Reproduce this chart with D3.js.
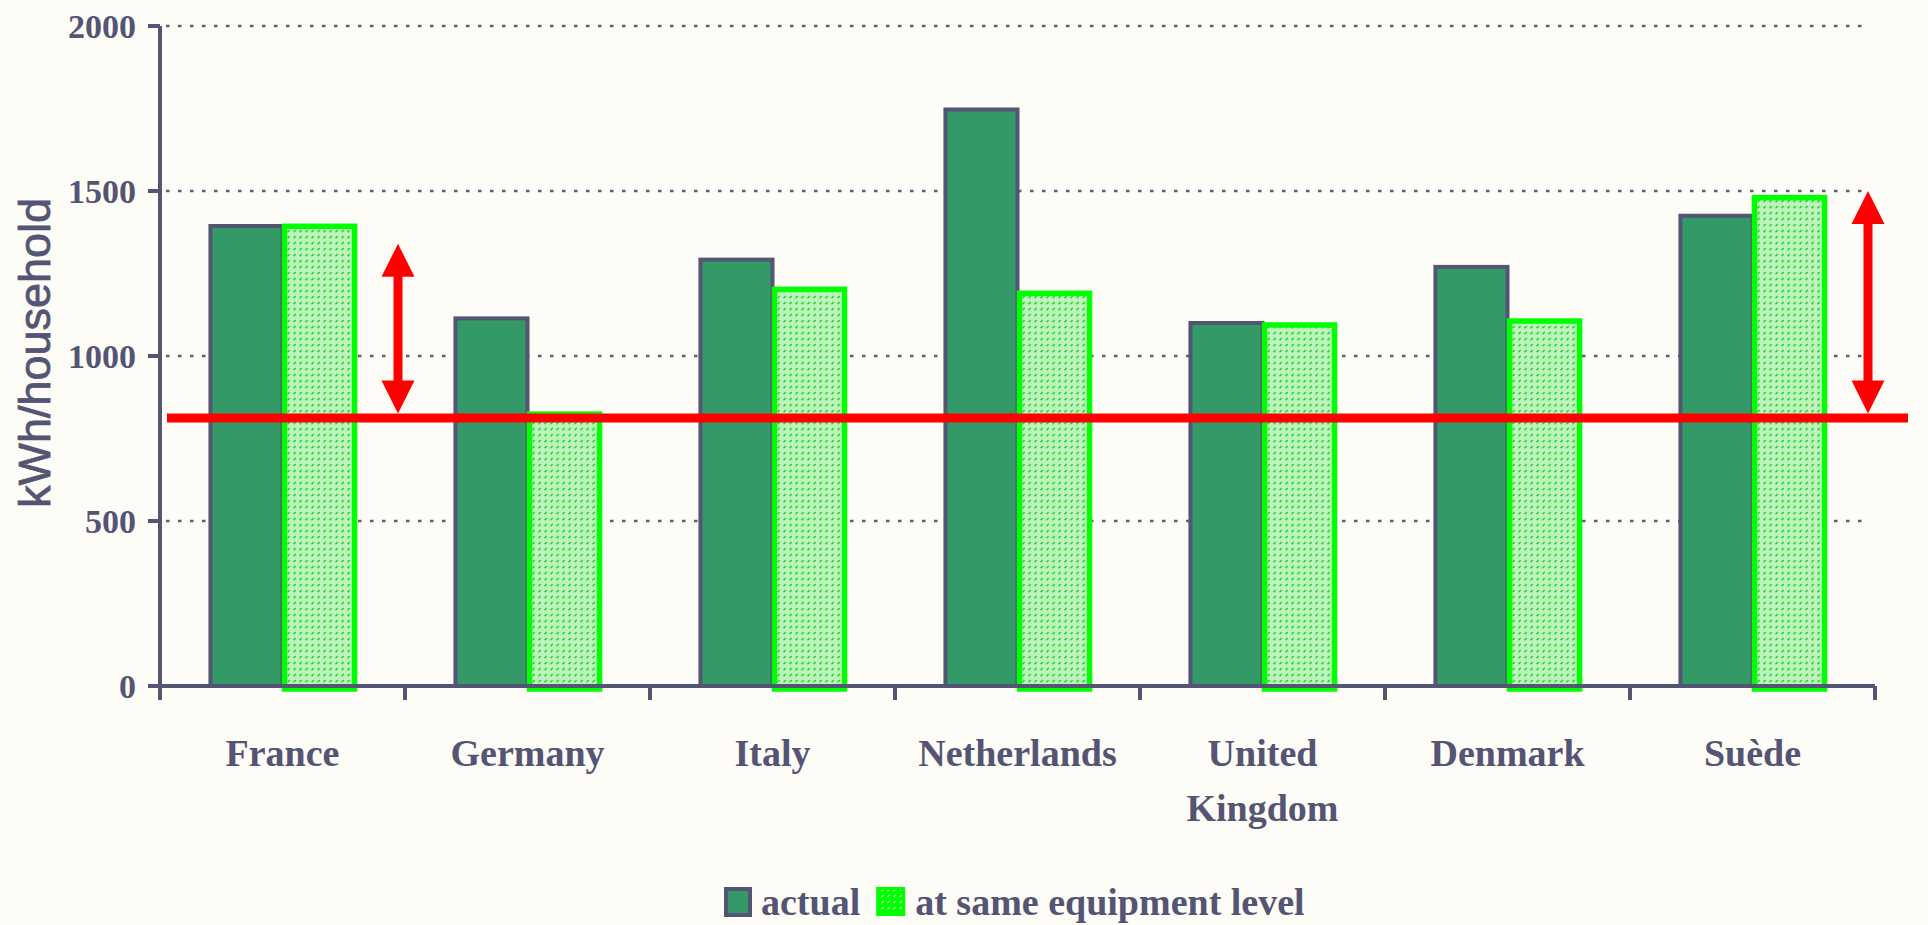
<!DOCTYPE html>
<html>
<head>
<meta charset="utf-8">
<script src="https://cdn.jsdelivr.net/npm/d3@7"></script>
<style>
  html, body { margin: 0; padding: 0; background: #fdfcf6; }
  svg { display: block; }
  .tickLabel, .catLabel, .legendText { font-family: "Liberation Serif", "Times New Roman", serif; font-weight: bold; fill: #545474; }
  .axisTitle { font-family: "Liberation Sans", Arial, sans-serif; fill: #545474; }
</style>
</head>
<body>
<svg id="graphic-svg" width="1928" height="925"></svg>
<script>
var svg = d3.select("#graphic-svg");
var W = 1928, H = 925;
var margin = { left: 160, right: 53, top: 26, bottom: 239 };

// Data
var countries = ["France", "Germany", "Italy", "Netherlands", "United Kingdom", "Denmark", "Suède"];
var series = ["actual", "at same equipment level"];
var actual = [1394, 1114, 1292, 1747, 1100, 1270, 1425];
var sameEquipment = [1393, 824, 1202, 1190, 1094, 1106, 1480];
var yTicks = [0, 500, 1000, 1500, 2000];
var refValue = 812;
var arrowCountries = ["France", "Suède"];
var arrowTops = [1340, 1500];

// Colors
var axisColor = "#545474";
var darkGreen = "#339966";
var brightGreen = "#00ff00";
var red = "#ff0000";

// Scales
var x0 = d3.scaleBand()
           .domain(countries)
           .range([margin.left, W - margin.right]);
var x1 = d3.scaleBand()
           .domain(series)
           .range([0, x0.bandwidth()])
           .paddingInner(0)
           .paddingOuter(0.7);
var y = d3.scaleLinear()
          .domain([0, 2000])
          .range([H - margin.bottom, margin.top]);

// Pattern for the hatched bars
var defs = svg.append("defs");
var pat = defs.append("pattern")
              .attr("id", "dots")
              .attr("patternUnits", "userSpaceOnUse")
              .attr("width", 6)
              .attr("height", 6);
pat.append("rect").attr("width", 6).attr("height", 6).attr("fill", "#bdf4bd");
pat.append("line")
   .attr("x1", 1.5).attr("y1", 4.2).attr("x2", 3.7).attr("y2", 2)
   .attr("stroke", "#22d822").attr("stroke-width", 1.6);
var pat2 = defs.append("pattern")
               .attr("id", "dotsLegend")
               .attr("patternUnits", "userSpaceOnUse")
               .attr("width", 6)
               .attr("height", 6);
pat2.append("rect").attr("width", 6).attr("height", 6).attr("fill", brightGreen);
pat2.append("line")
    .attr("x1", 1.5).attr("y1", 4.2).attr("x2", 3.7).attr("y2", 2)
    .attr("stroke", "#c8ffc8").attr("stroke-width", 1.2);

// Gridlines
svg.append("g")
   .selectAll("line")
   .data(yTicks.filter(function(d) { return d > 0; }))
   .enter()
   .append("line")
   .attr("x1", margin.left + 6)
   .attr("x2", x0.range()[1] - 5)
   .attr("y1", function(d) { return y(d); })
   .attr("y2", function(d) { return y(d); })
   .style("stroke", "#5e5e80")
   .style("stroke-width", 2.5)
   .style("stroke-dasharray", "3.5,8.5");

// Bars
var rows = countries.map(function(c, i) {
  return { country: c, values: [actual[i], sameEquipment[i]] };
});
var barGroup = svg.selectAll(".barGroup")
                  .data(rows)
                  .enter()
                  .append("g")
                  .attr("class", "barGroup")
                  .attr("transform", function(d) { return "translate(" + x0(d.country) + ",0)"; });
barGroup.append("rect")
        .attr("x", x1(series[0]))
        .attr("y", function(d) { return y(d.values[0]); })
        .attr("width", x1.bandwidth())
        .attr("height", function(d) { return y(0) - y(d.values[0]); })
        .style("fill", darkGreen)
        .style("stroke", axisColor)
        .style("stroke-width", 4);
barGroup.append("rect")
        .attr("x", x1(series[1]) + 2)
        .attr("y", function(d) { return y(d.values[1]); })
        .attr("width", x1.bandwidth() - 2)
        .attr("height", function(d) { return y(0) - y(d.values[1]) + 3; })
        .style("fill", "url(#dots)")
        .style("stroke", brightGreen)
        .style("stroke-width", 5.5);

// Axes
var axisG = svg.append("g");
axisG.append("line")
     .attr("x1", x0.range()[0]).attr("x2", x0.range()[0])
     .attr("y1", y(2000)).attr("y2", y(0) + 14)
     .style("stroke", axisColor).style("stroke-width", 4);
axisG.append("line")
     .attr("x1", x0.range()[0]).attr("x2", x0.range()[1])
     .attr("y1", y(0)).attr("y2", y(0))
     .style("stroke", axisColor).style("stroke-width", 4);
// y ticks
axisG.selectAll(".yTick")
     .data(yTicks)
     .enter()
     .append("line")
     .attr("x1", x0.range()[0] - 12).attr("x2", x0.range()[0])
     .attr("y1", function(d) { return y(d); })
     .attr("y2", function(d) { return y(d); })
     .style("stroke", axisColor).style("stroke-width", 4);
axisG.selectAll(".tickLabel")
     .data(yTicks)
     .enter()
     .append("text")
     .attr("class", "tickLabel")
     .attr("x", x0.range()[0] - 24)
     .attr("y", function(d) { return y(d) + 12; })
     .style("font-size", "34px")
     .style("text-anchor", "end")
     .text(function(d) { return d; });
// x ticks at category boundaries
var xBounds = countries.map(function(c) { return x0(c); }).concat([x0.range()[1]]);
axisG.selectAll(".xTick")
     .data(xBounds)
     .enter()
     .append("line")
     .attr("x1", function(d) { return d; }).attr("x2", function(d) { return d; })
     .attr("y1", y(0)).attr("y2", y(0) + 14)
     .style("stroke", axisColor).style("stroke-width", 4);

// Category labels
var catText = axisG.selectAll(".catLabel")
                   .data(countries)
                   .enter()
                   .append("text")
                   .attr("class", "catLabel")
                   .attr("x", function(d) { return x0(d) + x0.bandwidth() / 2; })
                   .attr("y", y(0) + 80)
                   .style("font-size", "38px")
                   .style("text-anchor", "middle");
catText.each(function(d) {
  var t = d3.select(this);
  var parts = d === "United Kingdom" ? ["United", "Kingdom"] : [d];
  parts.forEach(function(p, i) {
    t.append("tspan")
     .attr("x", t.attr("x"))
     .attr("dy", i === 0 ? 0 : 55)
     .text(p);
  });
});

// Y axis title
svg.append("text")
   .attr("class", "axisTitle")
   .attr("transform", "translate(50," + (y(1000) - 3) + ") rotate(-90)")
   .style("font-size", "45px")
   .style("stroke", "#545474")
   .style("stroke-width", 0.8)
   .style("text-anchor", "middle")
   .text("kWh/household");

// Reference line
svg.append("line")
   .attr("x1", x0.range()[0] + 7)
   .attr("x2", x0.range()[1] + 33)
   .attr("y1", y(refValue)).attr("y2", y(refValue))
   .style("stroke", red)
   .style("stroke-width", 9);

// Double arrows
var headH = 33, headW = 33;
arrowCountries.forEach(function(c, i) {
  var ax = x0(c) + x0.bandwidth() - 7;
  var yTop = y(arrowTops[i]);
  var yBot = y(refValue) - 4.5;
  var g = svg.append("g").attr("class", "arrow");
  g.append("line")
   .attr("x1", ax).attr("x2", ax)
   .attr("y1", yTop + headH - 2).attr("y2", yBot - headH + 2)
   .style("stroke", red).style("stroke-width", 9);
  g.append("path")
   .attr("d", "M" + ax + "," + yTop + "L" + (ax + headW / 2) + "," + (yTop + headH) + "L" + (ax - headW / 2) + "," + (yTop + headH) + "Z")
   .style("fill", red);
  g.append("path")
   .attr("d", "M" + ax + "," + yBot + "L" + (ax + headW / 2) + "," + (yBot - headH) + "L" + (ax - headW / 2) + "," + (yBot - headH) + "Z")
   .style("fill", red);
});

// Legend
var legend = svg.append("g").attr("transform", "translate(724,887)");
legend.append("rect")
      .attr("x", 2).attr("y", 2).attr("width", 24).attr("height", 26)
      .style("fill", darkGreen).style("stroke", axisColor).style("stroke-width", 4);
var lt1 = legend.append("text")
      .attr("class", "legendText")
      .attr("x", 37).attr("y", 28)
      .style("font-size", "38px")
      .text(series[0]);
var x2 = 37 + lt1.node().getComputedTextLength() + 16;
legend.append("rect")
      .attr("x", x2 + 1.5).attr("y", 1.5).attr("width", 26).attr("height", 26)
      .style("fill", "url(#dotsLegend)").style("stroke", brightGreen).style("stroke-width", 3);
legend.append("text")
      .attr("class", "legendText")
      .attr("x", x2 + 39).attr("y", 28)
      .style("font-size", "38px")
      .text(series[1]);
</script>
</body>
</html>
